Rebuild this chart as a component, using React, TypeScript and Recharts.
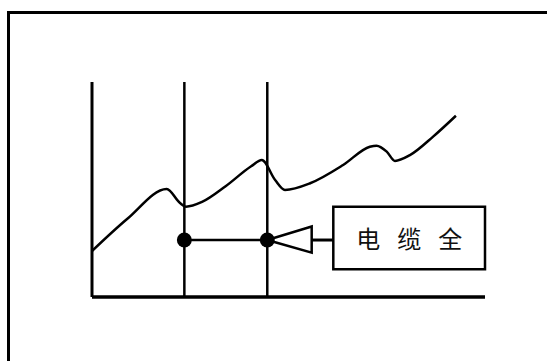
import {
  ComposedChart,
  Line,
  ReferenceArea,
  ReferenceDot,
  ReferenceLine,
  XAxis,
  YAxis,
} from "recharts";

// curve (x: 0..100 along the axis, y: 0..100 up the axis)
const curveX = [0, 9.0, 19.0, 22.4, 23.9, 28.0, 34.0, 40.5, 43.2, 46.6, 49.1, 55.5, 63.9, 70.7, 72.4, 75.0, 77.1, 80.9, 86.8, 92.6];
const curveY = [21.4, 36.4, 50.2, 43.7, 42.0, 44.2, 51.5, 60.8, 63.7, 54.4, 49.8, 52.9, 61.4, 69.9, 70.4, 67.6, 63.3, 66.0, 74.6, 84.3];

// two marker positions and the level joining them
const markerX = [23.5, 44.6];
const markerY = 26.5;

// hollow arrow head pointing at the second marker
const arrowX = [44.6, 55.9, 55.9, 44.6];
const arrowY = [26.5, 32.8, 20.6, 26.5];

// connector from arrow to the label box
const connectorX = [55.9, 61.4];

// label box
const boxX = [61.4, 100];
const boxY = [12.9, 42.0];
const boxLabel = ["电", "缆", "全"];

const curveData = curveX.map((x, i) => ({ x, y: curveY[i] }));
const levelData = markerX.map((x) => ({ x, y: markerY }));
const arrowData = arrowX.map((x, i) => ({ x, y: arrowY[i] }));
const connectorData = connectorX.map((x) => ({ x, y: markerY }));

function BoxLabel(props: any) {
  const { viewBox } = props;
  if (!viewBox) return null;
  const cx = viewBox.x + viewBox.width / 2;
  const cy = viewBox.y + viewBox.height / 2;
  const step = 41;
  return (
    <g>
      {boxLabel.map((ch, i) => (
        <text
          key={ch}
          x={cx + (i - 1) * step}
          y={cy}
          textAnchor="middle"
          dominantBaseline="central"
          fontSize={24}
          fontFamily="'Noto Sans CJK SC', sans-serif"
          fill="#111"
        >
          {ch}
        </text>
      ))}
    </g>
  );
}

export default function App() {
  return (
    <div
      style={{
        position: "fixed",
        left: 0,
        top: 0,
        width: 547,
        height: 361,
        background: "#fff",
        overflow: "hidden",
      }}
    >
      <div
        style={{
          position: "absolute",
          left: 7,
          top: 11,
          width: 560,
          height: 380,
          borderTop: "3px solid #000",
          borderLeft: "3px solid #000",
        }}
      />
      <div style={{ position: "absolute", left: 0, top: 0 }}>
        <ComposedChart
          width={547}
          height={361}
          margin={{ top: 82, right: 62, bottom: 64, left: 92 }}
        >
          <XAxis
            type="number"
            dataKey="x"
            domain={[0, 100]}
            allowDataOverflow
            hide
          />
          <YAxis
            type="number"
            dataKey="y"
            domain={[0, 100]}
            allowDataOverflow
            hide
          />
          {markerX.map((x) => (
            <ReferenceLine key={x} x={x} stroke="#000" strokeWidth={2.5} />
          ))}
          <ReferenceLine x={0} stroke="#000" strokeWidth={3} />
          <ReferenceLine y={0} stroke="#000" strokeWidth={3.5} />
          <Line
            data={curveData}
            dataKey="y"
            type="monotone"
            stroke="#000"
            strokeWidth={2.5}
            dot={false}
            isAnimationActive={false}
          />
          <Line
            data={levelData}
            dataKey="y"
            type="linear"
            stroke="#000"
            strokeWidth={2.5}
            dot={false}
            isAnimationActive={false}
          />
          <Line
            data={arrowData}
            dataKey="y"
            type="linear"
            stroke="#000"
            strokeWidth={2.5}
            dot={false}
            isAnimationActive={false}
          />
          <Line
            data={connectorData}
            dataKey="y"
            type="linear"
            stroke="#000"
            strokeWidth={3}
            dot={false}
            isAnimationActive={false}
          />
          <ReferenceArea
            x1={boxX[0]}
            x2={boxX[1]}
            y1={boxY[0]}
            y2={boxY[1]}
            fill="#fff"
            fillOpacity={1}
            stroke="#000"
            strokeWidth={2.5}
            label={<BoxLabel />}
          />
          {markerX.map((x) => (
            <ReferenceDot key={x} x={x} y={markerY} r={7.5} fill="#000" stroke="none" />
          ))}
        </ComposedChart>
      </div>
    </div>
  );
}
